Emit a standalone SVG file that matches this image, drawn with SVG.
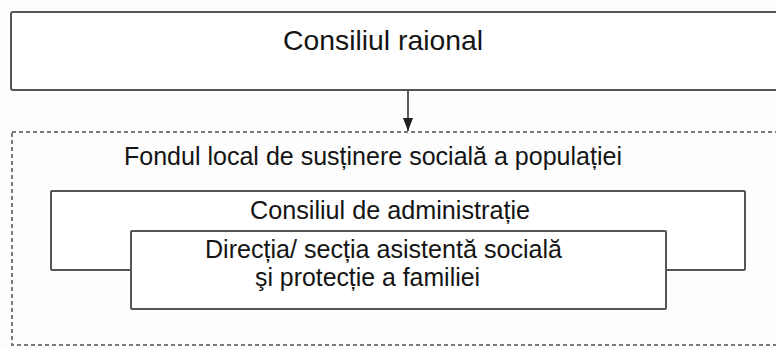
<svg xmlns="http://www.w3.org/2000/svg" width="776" height="347" viewBox="0 0 776 347">
  <defs>
    <style>
      .box { fill: #ffffff; stroke: #555555; stroke-width: 2; }
      .dash { fill: none; stroke: #7a7a7a; stroke-width: 2; stroke-dasharray: 4 3; }
      .t { font-family: "Liberation Sans", Arial, sans-serif; fill: #141414; }
      .conn { stroke: #333333; stroke-width: 1.6; fill: none; }
    </style>
    <marker id="arr" viewBox="0 0 13 10" refX="13" refY="5" markerWidth="13" markerHeight="10" markerUnits="userSpaceOnUse" orient="auto">
      <path d="M0,0 L13,5 L0,10 Z" fill="#222222"/>
    </marker>
  </defs>
  <rect x="0" y="0" width="776" height="347" fill="#fdfdfd"/>

  <g id="consiliul-raional">
    <rect class="box" x="11" y="12" width="780" height="78" rx="2"/>
    <text class="t" x="383" y="50" font-size="28" text-anchor="middle" textLength="200" lengthAdjust="spacingAndGlyphs">Consiliul raional</text>
  </g>

  <g id="fondul-local">
    <rect class="dash" x="12" y="132" width="780" height="213"/>
    <text class="t" x="124" y="165" font-size="25" textLength="498" lengthAdjust="spacingAndGlyphs">Fondul local de susținere socială a populației</text>
  </g>

  <g id="consiliul-administratie">
    <rect class="box" x="51" y="191" width="694" height="79" rx="1"/>
    <text class="t" x="250" y="219" font-size="25" textLength="280" lengthAdjust="spacingAndGlyphs">Consiliul de administrație</text>
  </g>

  <g id="directia-asistenta">
    <rect class="box" x="131" y="231" width="535" height="78" rx="1"/>
    <text class="t" x="205" y="258" font-size="25" textLength="357" lengthAdjust="spacingAndGlyphs">Direcția/ secția asistentă socială</text>
    <text class="t" x="255" y="286" font-size="25" textLength="225" lengthAdjust="spacingAndGlyphs">şi protecție a familiei</text>
  </g>

  <g id="connectors">
    <line class="conn" x1="408" y1="91" x2="408" y2="131" marker-end="url(#arr)"/>
  </g>
</svg>
